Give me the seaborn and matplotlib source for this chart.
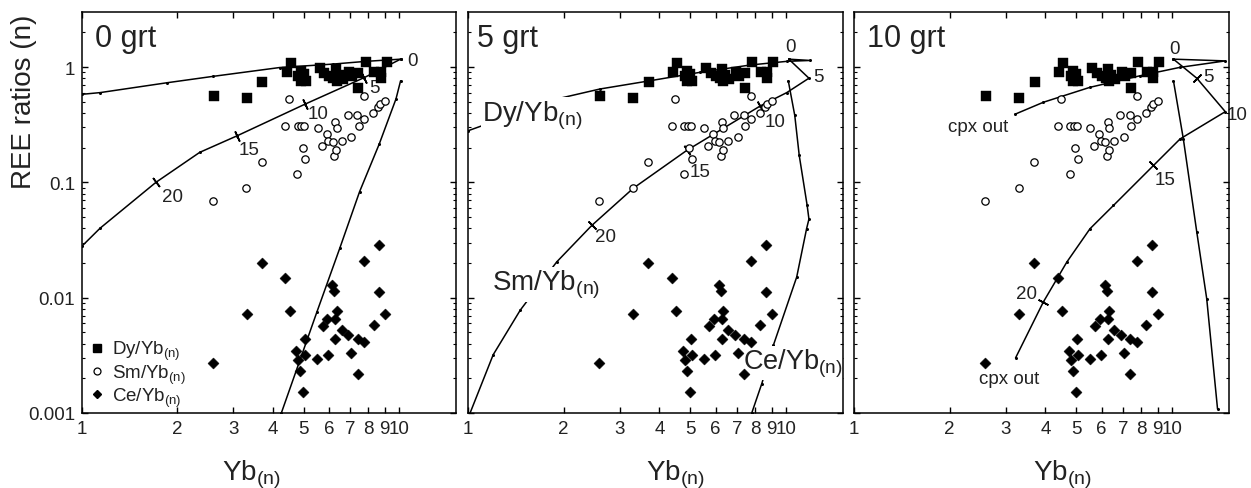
import numpy as np
import matplotlib
matplotlib.use('Agg')
import matplotlib.pyplot as plt
import seaborn as sns
from matplotlib.ticker import FixedLocator, FixedFormatter, NullFormatter, NullLocator
from matplotlib.lines import Line2D

# ---------------- data ----------------
# samples: Dy/Yb(n) (filled squares)
dy_x = [2.60, 3.31, 3.70, 4.42, 4.55, 4.81, 4.89, 4.89, 5.00, 5.07, 5.61, 5.80, 6.00, 6.20,
        6.31, 6.35, 6.45, 6.63, 6.94, 7.10, 7.43, 7.43, 7.84, 8.34, 8.74, 8.74, 9.12]
dy_y = [0.56, 0.54, 0.74, 0.91, 1.08, 0.83, 0.93, 0.76, 0.87, 0.76, 0.99, 0.88, 0.83, 0.80,
        0.96, 0.76, 0.86, 0.79, 0.90, 0.83, 0.89, 0.66, 1.10, 0.91, 0.90, 0.81, 1.10]
# samples: Sm/Yb(n) (open circles)
sm_x = [2.59, 3.30, 3.68, 4.38, 4.49, 4.76, 4.78, 4.90, 4.96, 5.02, 5.05, 5.54, 5.70, 5.91,
        5.97, 6.17, 6.23, 6.28, 6.32, 6.35, 6.59, 6.87, 7.05, 7.35, 7.45, 7.76, 7.76, 8.27,
        8.60, 8.70, 9.00]
sm_y = [0.069, 0.089, 0.150, 0.31, 0.528, 0.119, 0.31, 0.31, 0.198, 0.31, 0.160, 0.298, 0.208,
        0.26, 0.227, 0.223, 0.168, 0.336, 0.19, 0.295, 0.227, 0.38, 0.246, 0.384, 0.31, 0.355,
        0.565, 0.40, 0.448, 0.478, 0.505]
# samples: Ce/Yb(n) (filled diamonds)
ce_x = [2.59, 3.31, 3.69, 4.38, 4.51, 4.73, 4.81, 4.88, 4.98, 5.04, 5.06, 5.52, 5.74, 5.93,
        5.97, 6.14, 6.25, 6.29, 6.35, 6.28, 6.59, 6.91, 7.05, 7.40, 7.40, 7.76, 7.76, 8.30,
        8.65, 8.65, 9.02]
ce_y = [0.00274, 0.00717, 0.0200, 0.0148, 0.00767, 0.00343, 0.0029, 0.0023, 0.00153, 0.00442,
        0.0032, 0.00292, 0.00565, 0.00658, 0.0032, 0.0130, 0.0114, 0.00658, 0.0077, 0.00442,
        0.00528, 0.00472, 0.00332, 0.00442, 0.00218, 0.0209, 0.00413, 0.00584, 0.0284, 0.0113,
        0.00717]

# model curves, panel "0 grt"
p0_dy_x = [10.1, 7.86, 6.17, 4.2, 2.59, 1.85, 1.14, 1.0]
p0_dy_y = [1.17, 1.12, 1.06, 0.99, 0.83, 0.73, 0.60, 0.58]
p0_sm_x = [10.1, 7.76, 5.06, 3.09, 2.35, 1.71, 1.14, 1.0]
p0_sm_y = [1.17, 0.81, 0.478, 0.254, 0.182, 0.10, 0.040, 0.028]
p0_sm_ticks = [1, 2, 3, 5]
p0_ce_x = [10.1, 9.77, 8.65, 7.5, 6.5, 5.5, 4.25]
p0_ce_y = [0.76, 0.53, 0.215, 0.083, 0.027, 0.0075, 0.001]

# model curves, panel "5 grt"
p5_dy_x = [10.2, 11.9, 10.05, 7.7, 5.37, 3.73, 2.6, 1.9, 1.0]
p5_dy_y = [1.17, 1.14, 1.12, 1.04, 0.90, 0.76, 0.645, 0.528, 0.28]
p5_sm_x = [10.2, 11.8, 10.05, 8.3, 4.87, 3.31, 2.45, 1.90, 1.46, 1.20, 1.0]
p5_sm_y = [1.17, 0.80, 0.60, 0.46, 0.189, 0.089, 0.0423, 0.0204, 0.0078, 0.0032, 0.0009]
p5_sm_ticks = [3, 4, 6]
p5_ce_x = [10.16, 10.65, 11.0, 11.65, 11.8, 11.6, 10.8, 9.12, 8.39, 7.8]
p5_ce_y = [0.76, 0.38, 0.171, 0.063, 0.048, 0.0396, 0.0151, 0.00386, 0.0018, 0.001]

# model curves, panel "10 grt"
p10_dy_x = [10.1, 14.7, 10.6, 7.93, 5.52, 3.94, 3.21]
p10_dy_y = [1.17, 1.13, 0.994, 0.84, 0.667, 0.495, 0.39]
p10_sm_x = [10.1, 11.96, 14.7, 10.6, 8.74, 6.54, 5.52, 4.67, 3.94, 3.22]
p10_sm_y = [1.17, 0.80, 0.41, 0.238, 0.14, 0.063, 0.0396, 0.0204, 0.0092, 0.0030]
p10_sm_ticks = [1, 4, 8]
p10_ce_x = [10.1, 10.85, 11.96, 12.85, 13.9]
p10_ce_y = [0.76, 0.238, 0.037, 0.0098, 0.00108]

panel_titles = ['0 grt', '5 grt', '10 grt']
x_tick_vals = [1, 2, 3, 4, 5, 6, 7, 8, 9, 10]
x_tick_labels = ['1', '2', '3', '4', '5', '6', '7', '8', '9', '10']
y_tick_vals = [0.001, 0.01, 0.1, 1]
y_tick_labels = ['0.001', '0.01', '0.1', '1']

# ---------------- style ----------------
sns.set_style('ticks')
plt.rcParams['font.family'] = ['Liberation Sans', 'DejaVu Sans']
plt.rcParams['mathtext.fontset'] = 'custom'
plt.rcParams['mathtext.rm'] = 'Liberation Sans'
plt.rcParams['mathtext.it'] = 'Liberation Sans:italic'
plt.rcParams['mathtext.bf'] = 'Liberation Sans:bold'

SUB = '$_{\\mathregular{(n)}}$'
TXT = '#222222'

fig = plt.figure(figsize=(12.51, 4.89), dpi=100)
W, H = 1251, 489
rects = [(82, 374), (468, 375), (854, 375)]
top_px, bot_px = 13, 414

axes = []
for left, width in rects:
    ax = fig.add_axes([left / W, 1 - bot_px / H, width / W, (bot_px - top_px) / H])
    axes.append(ax)

minor_y = []
for dec in [0.001, 0.01, 0.1, 1]:
    for m in range(2, 10):
        v = dec * m
        if v < 3.0:
            minor_y.append(v)

for i, ax in enumerate(axes):
    ax.set_xscale('log')
    ax.set_yscale('log')
    ax.set_xlim(1, 15.1)
    ax.set_ylim(0.001, 3.0)
    ax.xaxis.set_major_locator(FixedLocator(x_tick_vals))
    ax.xaxis.set_major_formatter(FixedFormatter(x_tick_labels))
    ax.xaxis.set_minor_locator(NullLocator())
    ax.yaxis.set_major_locator(FixedLocator(y_tick_vals))
    ax.yaxis.set_minor_locator(FixedLocator(minor_y))
    ax.yaxis.set_minor_formatter(NullFormatter())
    if i == 0:
        ax.yaxis.set_major_formatter(FixedFormatter(y_tick_labels))
    else:
        ax.yaxis.set_major_formatter(NullFormatter())
    ax.tick_params(which='both', direction='in', top=True, right=True, color='black',
                   labelsize=13.5, labelcolor=TXT)
    ax.tick_params(which='major', length=4.5, width=1.0, pad=5)
    ax.tick_params(which='minor', length=2.5, width=0.8)
    for s in ax.spines.values():
        s.set_linewidth(1.1)
        s.set_color('black')
        s.set_zorder(6)
    ax.set_xlabel('')
    ax.set_ylabel('')


def curve(ax, xs, ys):
    sns.lineplot(x=xs, y=ys, sort=False, estimator=None, color='black', lw=1.1,
                 marker='o', markersize=2.2, markeredgewidth=0, ax=ax, legend=False, zorder=2)


def ticks(ax, xs, ys, idx):
    pts = ax.transData.transform(np.column_stack([xs, ys]))
    for i in idx:
        j0 = max(i - 1, 0)
        j1 = min(i + 1, len(xs) - 1)
        d = pts[j1] - pts[j0]
        ang = np.degrees(np.arctan2(d[1], d[0]))
        ax.plot([xs[i]], [ys[i]], marker=(2, 2, ang), ms=8, mew=1.2, color='black',
                linestyle='none', zorder=3)


def samples(ax):
    sns.scatterplot(x=dy_x, y=dy_y, marker='s', color='black', s=46, edgecolor='black',
                    linewidth=0.3, ax=ax, legend=False, zorder=4)
    sns.scatterplot(x=sm_x, y=sm_y, marker='o', color='white', s=28, edgecolor='black',
                    linewidth=0.9, ax=ax, legend=False, zorder=4)
    sns.scatterplot(x=ce_x, y=ce_y, marker='D', color='black', s=32, edgecolor='black',
                    linewidth=0.3, ax=ax, legend=False, zorder=4)


curves = [
    (p0_dy_x, p0_dy_y, p0_sm_x, p0_sm_y, p0_sm_ticks, p0_ce_x, p0_ce_y),
    (p5_dy_x, p5_dy_y, p5_sm_x, p5_sm_y, p5_sm_ticks, p5_ce_x, p5_ce_y),
    (p10_dy_x, p10_dy_y, p10_sm_x, p10_sm_y, p10_sm_ticks, p10_ce_x, p10_ce_y),
]

for ax, (dx, dyv, sx, sy, st, cx, cy), title in zip(axes, curves, panel_titles):
    curve(ax, dx, dyv)
    curve(ax, sx, sy)
    curve(ax, cx, cy)
    ax.set_xlim(1, 15.1)
    ax.set_ylim(0.001, 3.0)
    ticks(ax, sx, sy, st)
    samples(ax)
    ax.set_xlim(1, 15.1)
    ax.set_ylim(0.001, 3.0)

# panel titles
title_x = [0.035, 0.023, 0.034]
for ax, t, tx in zip(axes, panel_titles, title_x):
    ax.text(tx, 0.972, t, transform=ax.transAxes, fontsize=22, ha='left', va='top', color=TXT)

# curve annotations
lab = dict(fontsize=13.5, color=TXT)
a0, a1, a2 = axes
a0.text(10.6, 1.15, '0', ha='left', va='center', **lab)
a0.text(8.05, 0.66, '5', ha='left', va='center', **lab)
a0.text(5.14, 0.392, '10', ha='left', va='center', **lab)
a0.text(3.12, 0.191, '15', ha='left', va='center', **lab)
a0.text(1.785, 0.0749, '20', ha='left', va='center', **lab)

a1.text(10.3, 1.50, '0', ha='center', va='center', **lab)
a1.text(12.2, 0.83, '5', ha='left', va='center', **lab)
a1.text(8.59, 0.337, '10', ha='left', va='center', **lab)
a1.text(4.99, 0.124, '15', ha='left', va='center', **lab)
a1.text(2.51, 0.034, '20', ha='left', va='center', **lab)
box = dict(facecolor='white', edgecolor='none', pad=1.0)
a1.text(1.107, 0.343, 'Dy/Yb' + SUB, fontsize=20, ha='left', va='baseline', bbox=box,
        zorder=5, color=TXT)
a1.text(1.187, 0.0117, 'Sm/Yb' + SUB, fontsize=20, ha='left', va='baseline', bbox=box,
        zorder=5, color=TXT)
a1.text(7.30, 0.00243, 'Ce/Yb' + SUB, fontsize=19.5, ha='left', va='baseline',
        bbox=dict(facecolor='white', edgecolor='none', pad=0.3), zorder=3.5, color=TXT)

a2.text(10.2, 1.46, '0', ha='center', va='center', **lab)
a2.text(12.5, 0.83, '5', ha='left', va='center', **lab)
a2.text(14.8, 0.384, '10', ha='left', va='center', **lab)
a2.text(8.84, 0.105, '15', ha='left', va='center', **lab)
a2.text(3.76, 0.0108, '20', ha='right', va='center', **lab)
a2.text(3.06, 0.305, 'cpx out', ha='right', va='center', fontsize=13.5, color=TXT)
a2.text(3.07, 0.0020, 'cpx out', ha='center', va='center', fontsize=13.5, color=TXT)

# legend in first panel
handles = [
    Line2D([], [], marker='s', color='black', linestyle='none', markersize=5.5),
    Line2D([], [], marker='o', markerfacecolor='white', markeredgecolor='black',
           linestyle='none', markersize=5, markeredgewidth=0.9),
    Line2D([], [], marker='D', color='black', linestyle='none', markersize=4.5),
]
leg_labels = ['Dy/Yb' + SUB, 'Sm/Yb' + SUB, 'Ce/Yb' + SUB]
leg = a0.legend(handles, leg_labels, loc='lower left', bbox_to_anchor=(0.0, -0.008),
                frameon=False, fontsize=13.5, handlelength=0.8, handletextpad=0.4,
                labelspacing=0.0, borderaxespad=0.2, borderpad=0.2)
for t in leg.get_texts():
    t.set_color(TXT)

# axis labels
xl_pos = [0.452, 0.552, 0.555]
for ax, xp in zip(axes, xl_pos):
    ax.text(xp, -0.165, 'Yb' + SUB, transform=ax.transAxes, fontsize=20, ha='center',
            va='baseline', color=TXT)
fig.text(24 / W, 1 - 102 / H, 'REE ratios (n)', rotation=90, fontsize=20, ha='center',
         va='center', color=TXT)

fig.savefig('out.png', dpi=100)
